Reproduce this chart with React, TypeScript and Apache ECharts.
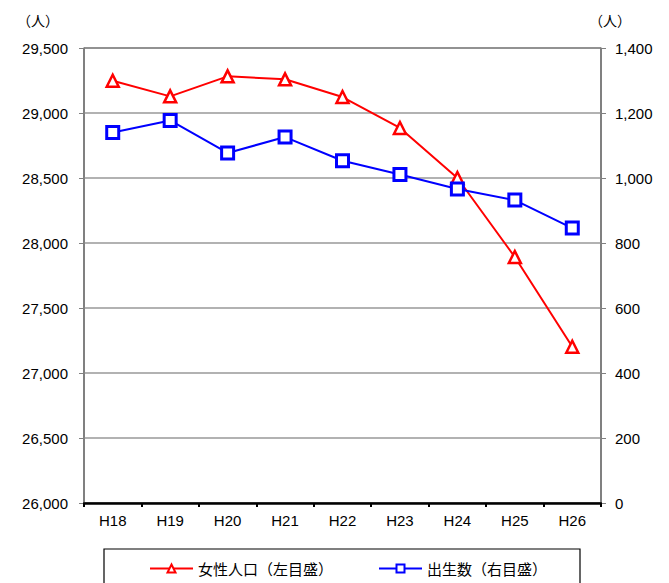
import React, { useEffect, useRef } from "react";
import * as echarts from "echarts";

const categories = ["H18", "H19", "H20", "H21", "H22", "H23", "H24", "H25", "H26"];
const femalePopulation = [29248, 29128, 29282, 29259, 29123, 28885, 28500, 27892, 27202];
const births = [1140, 1177, 1077, 1126, 1053, 1011, 966, 932, 846];
const leftName = "女性人口（左目盛）";
const rightName = "出生数（右目盛）";
const unitLabel = "（人）";

const FONT = "'Liberation Sans', Arial, sans-serif";
const JFONT = "'Noto Sans CJK JP', sans-serif";

export default function App() {
  const ref = useRef<HTMLDivElement>(null);
  useEffect(() => {
    if (!ref.current) return;
    const chart = echarts.init(ref.current, null, { renderer: "svg" });
    chart.setOption({
      animation: false,
      backgroundColor: "#fff",
      grid: {
        left: 84,
        right: 68,
        top: 48,
        bottom: 80,
        show: true,
        borderColor: "#000",
        borderWidth: 1,
      },
      legend: {
        left: 149,
        top: 561,
        padding: 0,
        itemWidth: 43,
        itemHeight: 10,
        itemGap: 45,
        textStyle: { fontFamily: JFONT, fontSize: 15, color: "#000" },
        data: [leftName, rightName],
      },
      graphic: [
        {
          type: "rect",
          shape: { x: 104, y: 549, width: 476, height: 60 },
          style: { fill: "none", stroke: "#000", lineWidth: 1.2 },
          silent: true,
        },
        {
          type: "text",
          x: 38,
          y: 20,
          style: { text: unitLabel, fontFamily: JFONT, fontSize: 14, fill: "#000", align: "center", verticalAlign: "middle" },
        },
        {
          type: "text",
          x: 610,
          y: 20,
          style: { text: unitLabel, fontFamily: JFONT, fontSize: 14, fill: "#000", align: "center", verticalAlign: "middle" },
        },
      ],
      xAxis: {
        type: "category",
        data: categories,
        boundaryGap: true,
        axisLine: { lineStyle: { color: "#000", width: 2.5 } },
        axisTick: { show: true, length: 4, lineStyle: { color: "#000", width: 2 } },
        axisLabel: { color: "#000", fontFamily: FONT, fontSize: 15, margin: 10 },
      },
      yAxis: [
        {
          type: "value",
          min: 26000,
          max: 29500,
          interval: 500,
          position: "left",
          axisLine: { show: true, lineStyle: { color: "#808080", width: 1.5 } },
          axisTick: { show: true, length: 5, lineStyle: { color: "#808080" } },
          axisLabel: { color: "#000", fontFamily: FONT, fontSize: 15, margin: 16 },
          splitLine: { show: true, lineStyle: { color: "#999", width: 1.5 } },
        },
        {
          type: "value",
          min: 0,
          max: 1400,
          interval: 200,
          position: "right",
          axisLine: { show: true, lineStyle: { color: "#808080", width: 1.5 } },
          axisTick: { show: true, length: 5, lineStyle: { color: "#808080" } },
          axisLabel: { color: "#000", fontFamily: FONT, fontSize: 15, margin: 14 },
          splitLine: { show: false },
        },
      ],
      series: [
        {
          name: leftName,
          type: "line",
          yAxisIndex: 0,
          data: femalePopulation,
          symbol: "triangle",
          symbolSize: 12,
          lineStyle: { color: "#ff0000", width: 2 },
          itemStyle: { color: "#fff", borderColor: "#ff0000", borderWidth: 2.5 },
        },
        {
          name: rightName,
          type: "line",
          yAxisIndex: 1,
          data: births,
          symbol: "rect",
          symbolSize: 12,
          lineStyle: { color: "#0000ff", width: 2 },
          itemStyle: { color: "#fff", borderColor: "#0000ff", borderWidth: 3 },
        },
      ],
    });
    return () => chart.dispose();
  }, []);
  return <div ref={ref} style={{ width: 669, height: 583, position: "absolute", left: 0, top: 0 }} />;
}
